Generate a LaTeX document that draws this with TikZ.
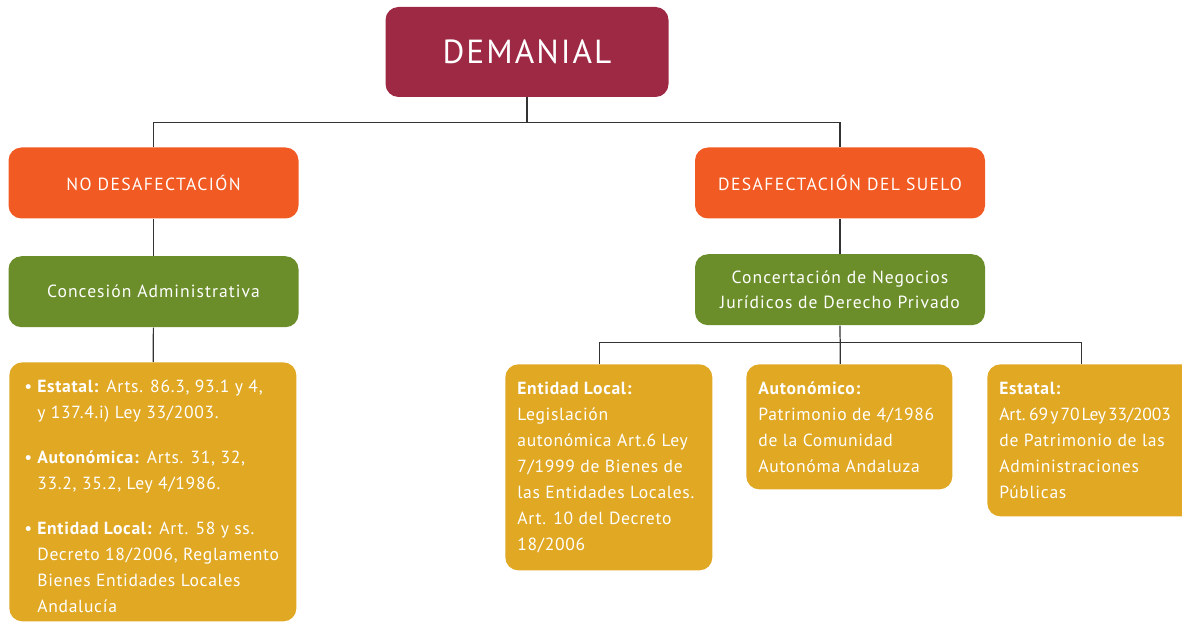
\documentclass[tikz,border=0pt]{standalone}
\usepackage{fontspec}
\setmainfont{PT Sans}
\usepackage{tikz}
\usetikzlibrary{calc,positioning}
\definecolor{demanialred}{HTML}{9E2944}
\definecolor{branchorange}{HTML}{F15A22}
\definecolor{leafgreen}{HTML}{6B8E2A}
\definecolor{lawgold}{HTML}{E0A823}
\definecolor{linkgray}{HTML}{333333}
\newcommand{\lawpar}[3]{\parbox[t][#1][t]{#2}{\raggedright\strut#3}}
\newcommand{\lawbullet}{\hspace*{0.06cm}\makebox[0.26cm][l]{\textbullet}}
\newcommand{\lawindent}{\hspace*{0.32cm}}
\newcommand{\lawtight}[1]{\mbox{\addfontfeature{LetterSpace=-1}\spaceskip=0.12em\relax#1}}
\tikzset{%
	rootbox/.style   = {fill=demanialred, rounded corners=0.26cm, minimum width=5.66cm, minimum height=1.8cm, text=white, font=\fontsize{19}{23}\selectfont\addfontfeature{LetterSpace=6}},
	branchbox/.style = {fill=branchorange, rounded corners=0.26cm, minimum width=5.8cm, minimum height=1.42cm, text=white, font=\fontsize{10}{14}\selectfont\addfontfeature{LetterSpace=8}}, % Orange
	leafbox/.style   = {fill=leafgreen, rounded corners=0.26cm, minimum width=5.8cm, minimum height=1.42cm, text=white, align=center, font=\fontsize{10}{14}\selectfont\addfontfeature{LetterSpace=6}}, % Green
	lawbox/.style    = {fill=lawgold, rounded corners=0.26cm, anchor=north west, inner sep=0.24cm, text=white, font=\fontsize{10}{14.8}\selectfont\addfontfeature{LetterSpace=4}}, % Gold
	link/.style      = {draw=linkgray, line width=0.7pt},
}
\begin{document}
\begin{tikzpicture}
	\useasboundingbox (0,0) rectangle (23.64,-12.48);
	\node [rootbox] (demanial) at (10.54,-1.04) {DEMANIAL};
	\node [branchbox] (nodesaf) at (3.07,-3.66) {NO DESAFECTACIÓN};
	\node [branchbox] (desaf) at (16.8,-3.66) {DESAFECTACIÓN DEL SUELO};
	\node [leafbox] (concesion) [below=0.74cm of nodesaf] {Concesión Administrativa};
	\node [leafbox] (concert) [below=0.7cm of desaf] {Concertación de Negocios\\Jurídicos de Derecho Privado};
	
	\node [lawbox] (leftlaw) at (0.18,-7.24) {\lawpar{4.70cm}{5.26cm}{%
		\lawbullet\textbf{Estatal:} Arts. 86.3, 93.1 y 4,\\
		\lawindent y 137.4.i) Ley 33/2003.\\[0.38cm]
		\lawbullet\textbf{Autonómica:} Arts. 31, 32,\\
		\lawindent 33.2, 35.2, Ley 4/1986.\\[0.38cm]
		\lawbullet\textbf{Entidad Local:} Art. 58 y ss.\\
		\lawindent Decreto 18/2006, Reglamento\\
		\lawindent Bienes Entidades Locales\\
		\lawindent Andalucía}};
	\node [lawbox] (entidad) at (10.1,-7.28) {\lawpar{3.64cm}{3.66cm}{%
		\textbf{Entidad Local:}\\
		Legislación\\
		autonómica Art.6 Ley\\
		7/1999 de Bienes de\\
		las Entidades Locales.\\
		Art. 10 del Decreto\\
		18/2006}};
	\node [lawbox] (autonomico) at (14.92,-7.28) {\lawpar{2.02cm}{3.64cm}{%
		\textbf{Autonómico:}\\
		Patrimonio de 4/1986\\
		de la Comunidad\\
		Autonóma Andaluza}};
	\node [lawbox] (estatal) at (19.74,-7.28) {\lawpar{2.56cm}{3.66cm}{%
		\textbf{Estatal:}\\
		\lawtight{Art. 69 y 70 Ley 33/2003}\\
		de Patrimonio de las\\
		Administraciones\\
		Públicas}};
	
	\coordinate (rootfork) at ($(demanial.south)+(0,-0.5)$);
	\coordinate (lawfork) at ($(concert.south)+(0,-0.34)$);
	
	\draw [link] (demanial.south) -- (rootfork);
	\draw [link] (nodesaf.north) |- (rootfork) -| (desaf.north);
	\draw [link] (nodesaf) -- (concesion);
	\draw [link] (concesion) -- (leftlaw);
	\draw [link] (desaf) -- (concert);
	\draw [link] (concert.south) -- ([xshift=-0.18cm]autonomico.north);
	\draw [link] ([xshift=-0.18cm]entidad.north) |- (lawfork) -| ([xshift=-0.18cm]estatal.north);
\end{tikzpicture}
\end{document}
